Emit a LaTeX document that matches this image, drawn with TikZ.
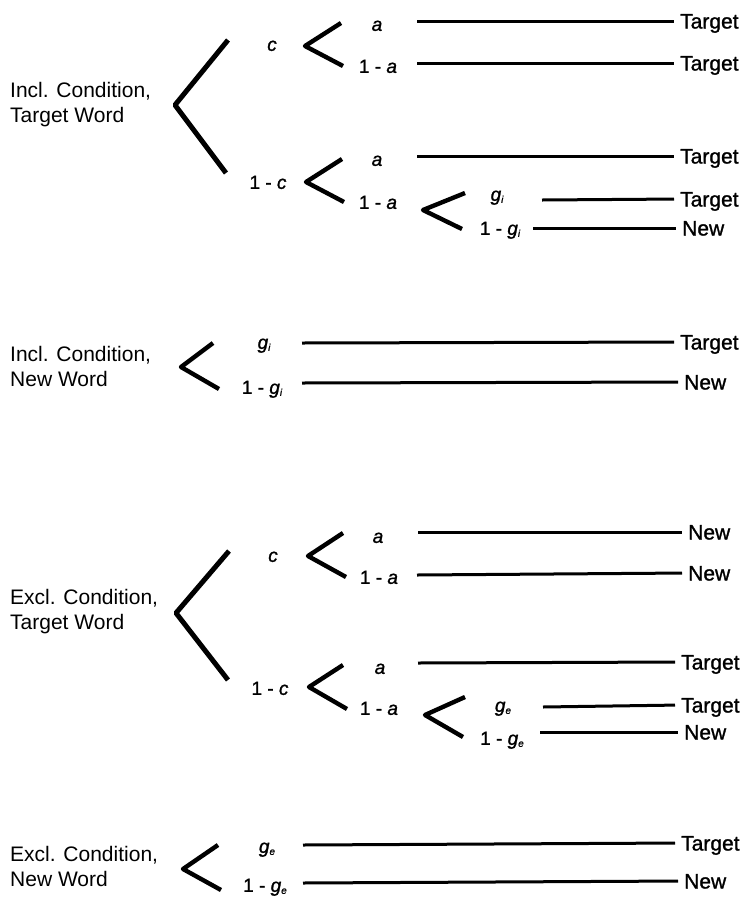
\documentclass[tikz,border=0pt]{standalone}
\usepackage{fontspec}
\setmainfont{Liberation Sans}
\newfontfamily\medfont[FakeBold=1.2]{Liberation Sans}
\begin{document}
\begin{tikzpicture}[x=1pt,y=-1pt,
  cond/.style={anchor=west,align=left,inner sep=0pt,font=\fontsize{21}{25}\selectfont},
  prob/.style={inner sep=0pt,text height=13.7pt,text depth=0pt,font=\fontsize{19}{19}\selectfont\medfont},
  res/.style={anchor=west,inner sep=0pt,text height=15pt,text depth=0pt,font=\fontsize{21}{21}\selectfont\medfont},
  bigbrk/.style={line width=5pt,line join=round},
  brk/.style={line width=4.4pt,line join=round},
  outl/.style={line width=3pt,shorten >=6pt}]
\useasboundingbox (0,0) rectangle (748,898);
\newcommand{\gsub}[1]{\textit{g}\raisebox{-2pt}{\fontsize{10}{10}\selectfont\itshape #1}}

% ---------------- Block 1: Incl. Condition, Target Word
\node[cond] (c1) at (10,105) {Incl. Condition,\\Target Word};
\coordinate (c1t) at (228,40); \coordinate (c1v) at (175,105); \coordinate (c1b) at (226,173);
\draw[bigbrk] (c1t) -- (c1v) -- (c1b);
\node[prob] (p1c) at (272,44) {\textit{c}};
\node[prob] (p1nc) at (268,182) {1 - \textit{c}};
\coordinate (s1t) at (341,23); \coordinate (s1v) at (305,46); \coordinate (s1b) at (343,66);
\draw[brk] (s1t) -- (s1v) -- (s1b);
\node[prob] (p1a) at (377,24) {\textit{a}};
\node[prob] (p1na) at (378,66) {1 - \textit{a}};
\coordinate (l1a) at (417,21); \node[res] (r1a) at (680,21) {Target};
\draw[outl] (l1a) -- (r1a.west);
\coordinate (l1b) at (417,63); \node[res] (r1b) at (680,63) {Target};
\draw[outl] (l1b) -- (r1b.west);
\coordinate (s2t) at (342,159); \coordinate (s2v) at (306,182); \coordinate (s2b) at (344,202);
\draw[brk] (s2t) -- (s2v) -- (s2b);
\node[prob] (p2a) at (377,159) {\textit{a}};
\node[prob] (p2na) at (378,202) {1 - \textit{a}};
\coordinate (l1c) at (417,156); \node[res] (r1c) at (680,156) {Target};
\draw[outl] (l1c) -- (r1c.west);
\coordinate (s3t) at (465,193); \coordinate (s3v) at (423,210); \coordinate (s3b) at (462,229);
\draw[brk] (s3t) -- (s3v) -- (s3b);
\node[prob] (p3g) at (497,194) {\gsub{i}};
\node[prob] (p3ng) at (500,228) {1 - \gsub{i}};
\coordinate (l1d) at (542,200); \node[res] (r1d) at (680,199) {Target};
\draw[outl] (l1d) -- (r1d.west);
\coordinate (l1e) at (533,228); \node[res] (r1e) at (682,228) {New};
\draw[outl] (l1e) -- (r1e.west);

% ---------------- Block 2: Incl. Condition, New Word
\node[cond] (c2) at (10,366) {Incl. Condition,\\New Word};
\coordinate (c2t) at (213,343); \coordinate (c2v) at (181,367); \coordinate (c2b) at (219,389);
\draw[brk] (c2t) -- (c2v) -- (c2b);
\node[prob] (p4g) at (264,342) {\gsub{i}};
\node[prob] (p4ng) at (262,387) {1 - \gsub{i}};
\coordinate (l2a) at (302,343); \node[res] (r2a) at (680,342) {Target};
\draw[outl] (l2a) -- (r2a.west);
\coordinate (l2b) at (302,383); \node[res] (r2b) at (684,382) {New};
\draw[outl] (l2b) -- (r2b.west);

% ---------------- Block 3: Excl. Condition, Target Word
\node[cond] (c3) at (10,612) {Excl. Condition,\\Target Word};
\coordinate (c3t) at (229,551); \coordinate (c3v) at (176,613); \coordinate (c3b) at (228,680);
\draw[bigbrk] (c3t) -- (c3v) -- (c3b);
\node[prob] (p5c) at (273,555) {\textit{c}};
\node[prob] (p5nc) at (270,688) {1 - \textit{c}};
\coordinate (s5t) at (343,533); \coordinate (s5v) at (308,556); \coordinate (s5b) at (346,577);
\draw[brk] (s5t) -- (s5v) -- (s5b);
\node[prob] (p5a) at (378,536) {\textit{a}};
\node[prob] (p5na) at (379,577) {1 - \textit{a}};
\coordinate (l3a) at (418,532); \node[res] (r3a) at (688,532) {New};
\draw[outl] (l3a) -- (r3a.west);
\coordinate (l3b) at (417,575); \node[res] (r3b) at (688,573) {New};
\draw[outl] (l3b) -- (r3b.west);
\coordinate (s6t) at (343,665); \coordinate (s6v) at (309,687); \coordinate (s6b) at (347,709);
\draw[brk] (s6t) -- (s6v) -- (s6b);
\node[prob] (p6a) at (380,667) {\textit{a}};
\node[prob] (p6na) at (379,708) {1 - \textit{a}};
\coordinate (l3c) at (418,663); \node[res] (r3c) at (681,662) {Target};
\draw[outl] (l3c) -- (r3c.west);
\coordinate (s7t) at (465,697); \coordinate (s7v) at (425,715); \coordinate (s7b) at (463,737);
\draw[brk] (s7t) -- (s7v) -- (s7b);
\node[prob] (p7g) at (503,705) {\gsub{e}};
\node[prob] (p7ng) at (502,738) {1 - \gsub{e}};
\coordinate (l3d) at (543,707); \node[res] (r3d) at (681,705) {Target};
\draw[outl] (l3d) -- (r3d.west);
\coordinate (l3e) at (540,732); \node[res] (r3e) at (684,732) {New};
\draw[outl] (l3e) -- (r3e.west);

% ---------------- Block 4: Excl. Condition, New Word
\node[cond] (c4) at (10,866) {Excl. Condition,\\New Word};
\coordinate (c4t) at (218,845); \coordinate (c4v) at (183,869); \coordinate (c4b) at (221,890);
\draw[brk] (c4t) -- (c4v) -- (c4b);
\node[prob] (p8g) at (267,846) {\gsub{e}};
\node[prob] (p8ng) at (265,885) {1 - \gsub{e}};
\coordinate (l4a) at (303,845); \node[res] (r4a) at (681,843) {Target};
\draw[outl] (l4a) -- (r4a.west);
\coordinate (l4b) at (303,883); \node[res] (r4b) at (684,881) {New};
\draw[outl] (l4b) -- (r4b.west);
\end{tikzpicture}
\end{document}
